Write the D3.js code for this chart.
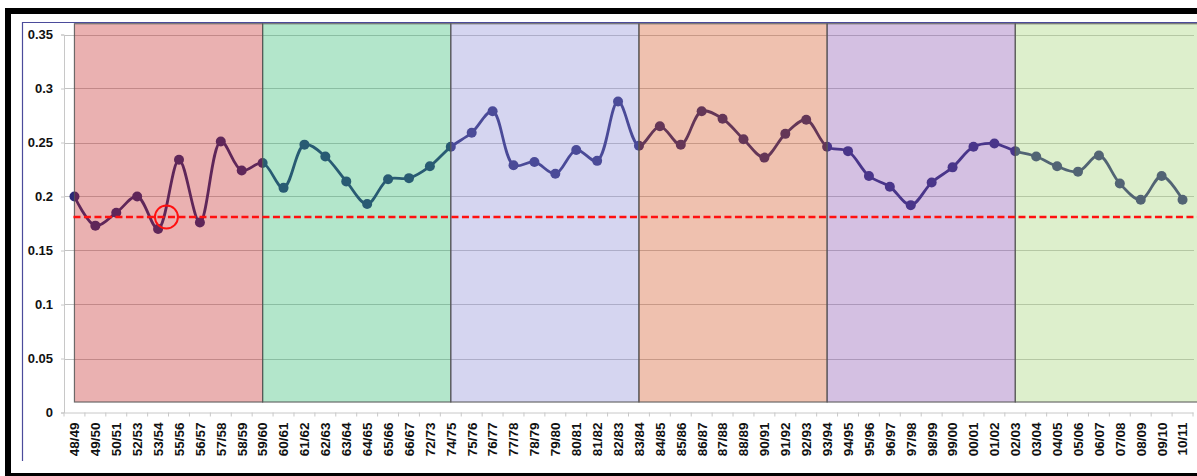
<!DOCTYPE html>
<html>
<head>
<meta charset="utf-8">
<script src="https://cdn.jsdelivr.net/npm/d3@7"></script>
<style>
  html, body { margin: 0; padding: 0; background: #fff; }
  svg { display: block; font-family: "Liberation Sans", Arial, sans-serif; }
  .tick-label { font-weight: bold; fill: #111; }
</style>
</head>
<body>
<div class="chart"></div>
<script>
/* data */
const seasons = [
  "48/49","49/50","50/51","52/53","53/54","55/56","56/57","57/58","58/59","59/60",
  "60/61","61/62","62/63","63/64","64/65","65/66","66/67","72/73","74/75","75/76",
  "76/77","77/78","78/79","79/80","80/81","81/82","82/83","83/84","84/85","85/86",
  "86/87","87/88","88/89","90/91","91/92","92/93","93/94","94/95","95/96","96/97",
  "97/98","98/99","99/00","00/01","01/02","02/03","03/04","04/05","05/06","06/07",
  "07/08","08/09","09/10","10/11"
];
const values = [
  0.200, 0.173, 0.185, 0.200, 0.170, 0.234, 0.176, 0.251, 0.224, 0.231,
  0.208, 0.248, 0.237, 0.214, 0.193, 0.216, 0.217, 0.228, 0.246, 0.259,
  0.279, 0.229, 0.232, 0.221, 0.243, 0.233, 0.288, 0.247, 0.265, 0.248,
  0.279, 0.272, 0.253, 0.236, 0.258, 0.271, 0.246, 0.242, 0.219, 0.209,
  0.192, 0.213, 0.227, 0.246, 0.249, 0.242, 0.237, 0.228, 0.223, 0.238,
  0.212, 0.197, 0.219, 0.197
];
const eraStarts = ["48/49", "59/60", "74/75", "83/84", "93/94", "02/03"];
const eraColors = ["#c32020", "#26b86a", "#8787d4", "#d14e1a", "#844bac", "#9ed16d"];
const eraTop = 0.36;
const eraBottom = 0.0097;
const yTicks = [0, 0.05, 0.1, 0.15, 0.2, 0.25, 0.3, 0.35];
const threshold = 0.181;
const marked = { season: "53/54", shift: 0.4, value: 0.181 };

/* canvas */
const svg_width = 1197;
const svg_height = 476;
const plot = { left: 64, right: 1193, top: 34.5, bottom: 412.5 };

const svg = d3.select(".chart").append("svg")
  .attr("width", svg_width)
  .attr("height", svg_height);

/* scales */
const xScale = d3.scaleBand().domain(seasons).range([plot.left, plot.right]).padding(0);
const xMid = d => xScale(d) + xScale.bandwidth() / 2;
const yScale = d3.scaleLinear().domain([0, 0.35]).range([plot.bottom, plot.top]);

/* frame */
svg.append("rect").attr("x", 5).attr("y", 8).attr("width", svg_width).attr("height", 6).attr("fill", "#000");
svg.append("rect").attr("x", 5).attr("y", 8).attr("width", 6).attr("height", svg_height).attr("fill", "#000");
svg.append("rect").attr("x", 5).attr("y", 473).attr("width", svg_width).attr("height", 3).attr("fill", "#000");
svg.append("line").attr("x1", 22.5).attr("x2", 22.5).attr("y1", 22).attr("y2", 461)
  .attr("stroke", "#4b4b9b").attr("stroke-width", 1.2);
svg.append("line").attr("x1", 22).attr("x2", svg_width).attr("y1", 22.5).attr("y2", 22.5)
  .attr("stroke", "#4b4b9b").attr("stroke-width", 1.2);

/* grid */
svg.append("g").attr("class", "grid")
  .selectAll("line").data(yTicks.filter(d => d > 0)).join("line")
  .attr("x1", plot.left).attr("x2", 1194)
  .attr("y1", d => Math.round(yScale(d)) + 0.5).attr("y2", d => Math.round(yScale(d)) + 0.5)
  .attr("stroke", "#c2c2c2").attr("stroke-width", 1);

/* y axis */
const yAxis = d3.axisLeft(yScale).tickValues(yTicks).tickSize(3).tickPadding(8)
  .tickFormat(d => +d.toFixed(2));
const yAxisDraw = svg.append("g").attr("transform", `translate(${plot.left},0)`).call(yAxis);
yAxisDraw.select(".domain").attr("stroke", "#c8c8c8");
yAxisDraw.selectAll(".tick line").attr("stroke", "#c8c8c8");
yAxisDraw.selectAll(".tick text").attr("class", "tick-label").style("font-size", "13px");

/* x axis */
const xAxis = d3.axisBottom(xScale).tickSize(0).tickSizeOuter(0);
const xAxisDraw = svg.append("g").attr("transform", `translate(0,${plot.bottom})`).call(xAxis);
xAxisDraw.select(".domain").attr("stroke", "#c8c8c8");
xAxisDraw.selectAll(".tick text")
  .attr("class", "tick-label")
  .style("font-size", "13.5px")
  .attr("text-anchor", "end")
  .attr("transform", "rotate(-90)")
  .attr("x", -10).attr("y", 0).attr("dy", "0.36em");
svg.append("g").selectAll("line").data(seasons.concat([null])).join("line")
  .attr("x1", d => d === null ? plot.right : xScale(d))
  .attr("x2", d => d === null ? plot.right : xScale(d))
  .attr("y1", plot.bottom).attr("y2", plot.bottom + 4)
  .attr("stroke", "#c8c8c8");

/* line + dots */
const lineGen = d3.line()
  .x((d, i) => xMid(seasons[i]))
  .y(d => yScale(d))
  .curve(d3.curveCatmullRom.alpha(0.5));

svg.append("path").datum(values)
  .attr("d", lineGen)
  .attr("fill", "none")
  .attr("stroke", "#2a2a78")
  .attr("stroke-width", 2.8);

svg.append("g").selectAll("circle").data(values).join("circle")
  .attr("cx", (d, i) => xMid(seasons[i]))
  .attr("cy", d => yScale(d))
  .attr("r", 5)
  .attr("fill", "#2a2a78");

/* era shading on top */
const eras = eraStarts.map((s, i) => ({
  x0: xMid(s),
  x1: i < eraStarts.length - 1 ? xMid(eraStarts[i + 1]) : svg_width + 2,
  color: eraColors[i]
}));
svg.append("g").selectAll("rect").data(eras).join("rect")
  .attr("x", d => d.x0)
  .attr("width", d => d.x1 - d.x0)
  .attr("y", yScale(eraTop))
  .attr("height", yScale(eraBottom) - yScale(eraTop))
  .attr("fill", d => d.color)
  .attr("fill-opacity", 0.35)
  .attr("stroke", "#555")
  .attr("stroke-opacity", 0.85)
  .attr("stroke-width", 1.2);

/* threshold line + marker */
svg.append("line")
  .attr("x1", xMid(seasons[0]) - 1).attr("x2", svg_width)
  .attr("y1", yScale(threshold)).attr("y2", yScale(threshold))
  .attr("stroke", "#ff1010").attr("stroke-width", 2.4)
  .attr("stroke-dasharray", "7,3.5");

svg.append("circle")
  .attr("cx", xMid(marked.season) + marked.shift * xScale.bandwidth())
  .attr("cy", yScale(marked.value))
  .attr("r", 11.5)
  .attr("fill", "none")
  .attr("stroke", "#ff1010")
  .attr("stroke-width", 2);
</script>
</body>
</html>
